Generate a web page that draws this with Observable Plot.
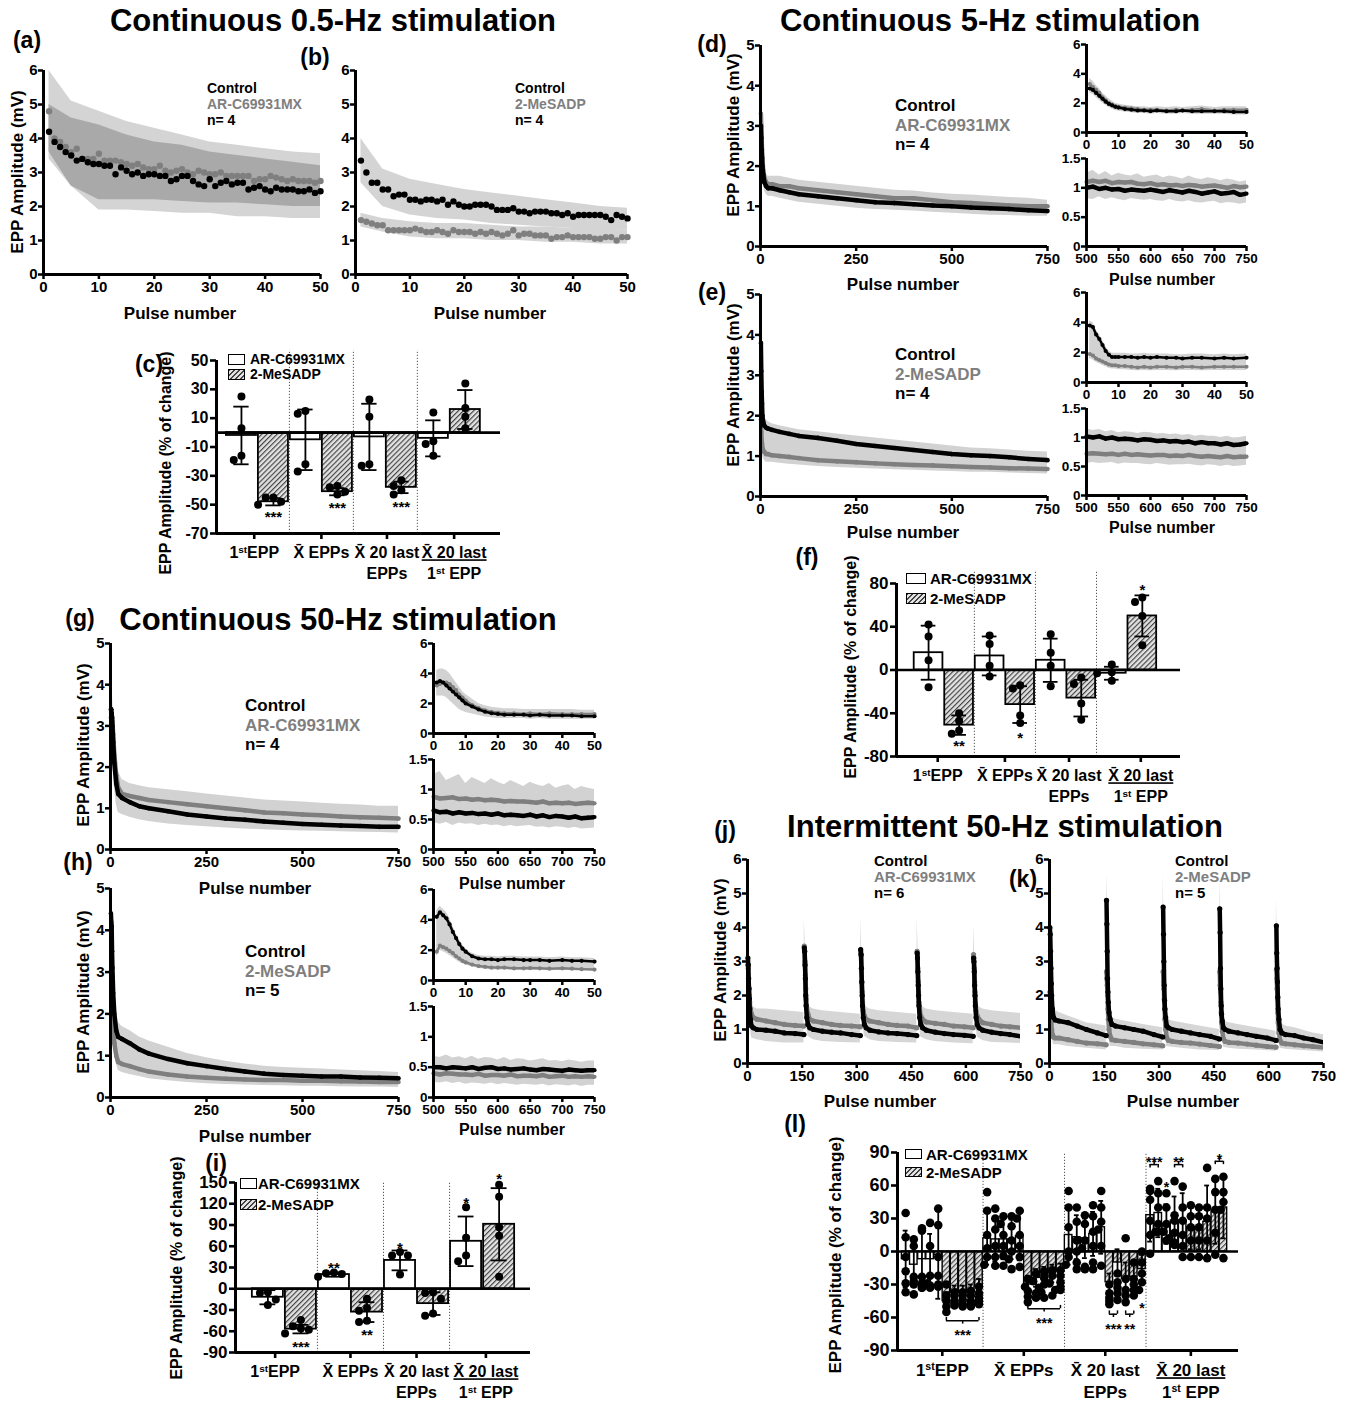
<!DOCTYPE html>
<html><head><meta charset="utf-8">
<script src="https://cdn.jsdelivr.net/npm/d3@7"></script>
<script src="https://cdn.jsdelivr.net/npm/@observablehq/plot@0.6"></script>
<style>
body{margin:0;background:#fff;}
#fig{position:relative;width:1346px;height:1401px;overflow:hidden;font-family:"Liberation Sans",Arial,Helvetica,sans-serif;font-weight:bold;color:#000;background:#fff;}
.t{position:absolute;white-space:nowrap;line-height:1;transform:translate(-50%,-50%);}
.l{position:absolute;white-space:nowrap;line-height:1;transform:translate(0,-50%);}
.v{position:absolute;white-space:nowrap;line-height:1;transform:translate(-50%,-50%) rotate(-90deg);}
.box{position:absolute;border:1.5px solid #000;box-sizing:border-box;background:#fff;}
.hbox{position:absolute;border:1.5px solid #000;box-sizing:border-box;background:repeating-linear-gradient(135deg,#444 0 1px,#e2e2e2 1px 3.5px);}
</style></head>
<body><div id="fig"></div>
<script>
// ======================= DATA =======================
// (a) Continuous 0.5 Hz — Control vs AR-C69931MX (pulses 1..50)
const pulses50 = d3.range(1, 51);
const aControl = [4.2,3.9,3.75,3.6,3.5,3.35,3.4,3.3,3.25,3.25,3.2,3.2,2.95,3.15,3.05,2.95,3.0,2.9,2.95,2.95,2.9,2.9,2.75,2.8,2.9,2.9,2.75,2.65,2.6,2.8,2.6,2.7,2.75,2.65,2.7,2.7,2.5,2.55,2.6,2.5,2.45,2.55,2.5,2.5,2.5,2.45,2.45,2.5,2.4,2.45];
const aAR = [4.8,4.0,3.9,3.75,3.6,3.7,3.4,3.4,3.4,3.55,3.35,3.35,3.35,3.3,3.25,3.2,3.25,3.15,3.1,3.1,3.2,3.05,3.0,3.05,3.1,3.0,2.95,3.05,3.0,2.95,2.95,3.0,2.9,2.9,2.9,2.9,2.9,2.75,2.8,2.8,2.9,2.85,2.8,2.75,2.8,2.75,2.75,2.75,2.7,2.75];
const bandGrid50 = [1,5,10,15,20,25,30,35,40,45,50];
const aBandARHi = [6.0,5.1,4.8,4.5,4.3,4.1,3.9,3.8,3.7,3.6,3.55];
const aBandARLo = [3.4,2.6,1.9,1.9,1.85,1.8,1.8,1.7,1.7,1.65,1.65];
const aBandCtHi = [5.0,4.6,4.4,4.1,3.9,3.8,3.6,3.5,3.4,3.3,3.2];
const aBandCtLo = [3.6,2.6,2.2,2.2,2.2,2.15,2.1,2.1,2.05,2.0,2.0];
// (b) Continuous 0.5 Hz — Control vs 2-MeSADP
const bControl = [3.35,3.0,2.7,2.7,2.5,2.5,2.3,2.35,2.35,2.2,2.2,2.15,2.2,2.2,2.15,2.2,2.05,2.15,2.05,2.0,2.0,2.05,2.05,2.05,2.0,1.9,1.9,1.9,1.95,1.85,1.85,1.8,1.85,1.85,1.85,1.8,1.8,1.75,1.8,1.7,1.75,1.75,1.75,1.75,1.75,1.7,1.6,1.75,1.7,1.65];
const bMeS = [1.6,1.55,1.5,1.45,1.45,1.3,1.3,1.3,1.3,1.3,1.35,1.3,1.25,1.25,1.3,1.25,1.2,1.3,1.25,1.25,1.25,1.2,1.25,1.2,1.25,1.2,1.15,1.2,1.3,1.15,1.2,1.2,1.15,1.15,1.15,1.05,1.1,1.1,1.15,1.1,1.1,1.1,1.1,1.05,1.05,1.1,1.1,1.0,1.1,1.1];
const bBandCtHi = [4.0,3.1,2.8,2.65,2.5,2.4,2.3,2.2,2.1,2.0,1.95];
const bBandCtLo = [2.7,2.0,1.75,1.65,1.6,1.5,1.45,1.4,1.35,1.3,1.3];
const bBandMeHi = [1.8,1.65,1.55,1.5,1.5,1.45,1.4,1.4,1.35,1.35,1.3];
const bBandMeLo = [1.4,1.25,1.1,1.05,1.05,1.0,1.0,0.95,0.95,0.9,0.9];

// pulse grids for the 750-pulse recordings
const grid750 = [1,2,3,4,5,7,10,15,20,30,50,75,100,150,200,250,300,350,400,450,500,550,600,650,700,750];
const gridFirst50 = [1,2,3,4,5,6,7,8,9,10,12,14,16,18,20,22,25,28,30,33,36,40,43,46,50];
const gridLast = [500,510,520,530,540,550,560,570,580,590,600,610,620,630,640,650,660,670,680,690,700,710,720,730,740,750];

// (d) Continuous 5 Hz — Control vs AR-C69931MX
const dControl = [3.0,2.7,2.4,2.2,2.0,1.8,1.6,1.5,1.45,1.45,1.4,1.35,1.3,1.25,1.2,1.15,1.1,1.08,1.05,1.02,1.0,0.97,0.95,0.93,0.9,0.88];
const dAR = [3.3,3.0,2.7,2.4,2.2,1.9,1.7,1.6,1.55,1.55,1.5,1.5,1.45,1.4,1.35,1.3,1.25,1.2,1.2,1.15,1.1,1.08,1.05,1.02,1.0,1.0];
const dBandHi = [3.6,3.2,2.9,2.6,2.4,2.1,1.9,1.8,1.75,1.75,1.75,1.7,1.65,1.6,1.55,1.5,1.45,1.4,1.38,1.33,1.3,1.28,1.25,1.22,1.2,1.15];
const dBandLo = [2.7,2.4,2.1,1.9,1.75,1.6,1.4,1.3,1.25,1.25,1.2,1.15,1.1,1.05,1.0,0.95,0.92,0.9,0.88,0.85,0.83,0.8,0.78,0.77,0.75,0.75];
const dTopControl = [3.0,2.9,2.7,2.5,2.3,2.1,1.95,1.85,1.75,1.7,1.6,1.55,1.5,1.5,1.45,1.5,1.45,1.45,1.5,1.45,1.45,1.45,1.45,1.4,1.4];
const dTopAR = [3.3,3.1,2.9,2.7,2.4,2.2,2.0,1.9,1.8,1.75,1.7,1.65,1.6,1.55,1.55,1.55,1.5,1.55,1.5,1.55,1.6,1.5,1.55,1.55,1.55];
const dTopHi = [3.7,3.5,3.2,3.0,2.7,2.5,2.3,2.15,2.0,1.95,1.85,1.8,1.75,1.75,1.7,1.75,1.7,1.75,1.7,1.75,1.8,1.7,1.75,1.75,1.75];
const dTopLo = [2.7,2.6,2.4,2.2,2.0,1.85,1.7,1.6,1.5,1.45,1.4,1.35,1.3,1.3,1.25,1.3,1.25,1.25,1.3,1.25,1.25,1.25,1.25,1.2,1.2];
const dEndControl = [1.0,1.02,0.98,1.0,0.97,0.98,0.95,0.97,0.96,0.95,0.97,0.95,0.93,0.96,0.94,0.92,0.95,0.93,0.9,0.92,0.94,0.9,0.91,0.93,0.88,0.9];
const dEndAR = [1.1,1.12,1.1,1.12,1.08,1.1,1.09,1.1,1.07,1.06,1.08,1.05,1.06,1.04,1.05,1.03,1.05,1.04,1.02,1.03,1.04,1.02,1.0,1.03,1.01,1.02];
const dEndHi = [1.25,1.3,1.22,1.28,1.2,1.25,1.22,1.2,1.24,1.18,1.2,1.22,1.17,1.2,1.18,1.15,1.2,1.16,1.14,1.17,1.15,1.12,1.15,1.13,1.1,1.12];
const dEndLo = [0.82,0.8,0.85,0.8,0.83,0.8,0.78,0.82,0.8,0.79,0.8,0.78,0.77,0.8,0.77,0.76,0.78,0.75,0.74,0.76,0.77,0.73,0.75,0.74,0.72,0.74];

// (e) Continuous 5 Hz — Control vs 2-MeSADP
const eControl = [3.8,3.1,2.6,2.3,2.0,1.85,1.75,1.7,1.68,1.65,1.6,1.55,1.5,1.45,1.38,1.3,1.25,1.2,1.15,1.1,1.05,1.02,1.0,0.97,0.93,0.9];
const eMeS = [1.9,1.6,1.4,1.3,1.2,1.15,1.1,1.05,1.05,1.02,1.0,0.98,0.95,0.9,0.87,0.85,0.82,0.8,0.78,0.77,0.75,0.73,0.72,0.7,0.69,0.68];
const eBandHi = [4.0,3.3,2.8,2.5,2.2,2.0,1.95,1.9,1.85,1.8,1.75,1.7,1.65,1.6,1.55,1.5,1.45,1.4,1.35,1.3,1.25,1.2,1.18,1.15,1.12,1.1];
const eBandLo = [1.6,1.4,1.2,1.1,1.0,0.95,0.9,0.85,0.85,0.85,0.82,0.8,0.78,0.74,0.72,0.7,0.68,0.66,0.65,0.63,0.62,0.6,0.6,0.58,0.57,0.56];
const eTopControl = [3.8,3.7,3.2,2.9,2.5,2.1,1.85,1.7,1.7,1.7,1.7,1.7,1.65,1.7,1.65,1.7,1.65,1.65,1.6,1.65,1.65,1.6,1.65,1.6,1.65];
const eTopMeS = [1.9,1.8,1.6,1.5,1.4,1.3,1.2,1.15,1.15,1.1,1.1,1.05,1.0,1.05,1.0,1.05,1.05,1.0,1.05,1.05,1.0,1.05,1.05,1.05,1.05];
const eTopHi = [4.1,4.0,3.5,3.2,2.8,2.4,2.1,1.95,1.95,1.95,1.95,1.9,1.9,1.95,1.9,1.9,1.9,1.85,1.85,1.9,1.9,1.85,1.9,1.85,1.9];
const eTopLo = [1.6,1.5,1.35,1.25,1.15,1.05,0.95,0.9,0.9,0.85,0.85,0.8,0.78,0.8,0.78,0.8,0.8,0.78,0.8,0.8,0.78,0.8,0.8,0.8,0.8];
const eEndControl = [1.02,1.0,1.02,0.98,1.0,0.97,0.98,0.97,0.95,0.97,0.96,0.94,0.95,0.93,0.94,0.92,0.93,0.9,0.92,0.9,0.9,0.88,0.9,0.87,0.88,0.9];
const eEndMeS = [0.72,0.73,0.72,0.71,0.72,0.7,0.72,0.7,0.71,0.7,0.69,0.7,0.7,0.68,0.69,0.68,0.7,0.68,0.67,0.68,0.67,0.66,0.68,0.66,0.67,0.67];
const eEndHi = [1.15,1.12,1.14,1.1,1.12,1.08,1.1,1.09,1.07,1.09,1.08,1.06,1.07,1.05,1.06,1.04,1.05,1.02,1.04,1.02,1.02,1.0,1.02,0.99,1.0,1.02];
const eEndLo = [0.55,0.57,0.55,0.56,0.57,0.54,0.56,0.55,0.55,0.54,0.53,0.55,0.54,0.52,0.53,0.53,0.54,0.52,0.51,0.53,0.52,0.5,0.52,0.5,0.51,0.52];

// (g) Continuous 50 Hz — Control vs AR-C69931MX
const gControl = [3.4,3.4,3.3,3.2,3.0,2.6,2.1,1.6,1.35,1.25,1.15,1.05,1.0,0.93,0.85,0.8,0.75,0.72,0.68,0.65,0.62,0.6,0.58,0.57,0.55,0.55];
const gAR = [3.2,3.3,3.3,3.2,3.1,2.8,2.3,1.8,1.5,1.35,1.3,1.25,1.2,1.15,1.1,1.05,1.0,0.95,0.9,0.88,0.85,0.83,0.8,0.78,0.77,0.75];
const gBandHi = [4.3,4.3,4.2,4.0,3.8,3.4,2.8,2.2,1.9,1.7,1.6,1.55,1.5,1.45,1.4,1.35,1.3,1.25,1.2,1.18,1.15,1.12,1.1,1.08,1.05,1.05];
const gBandLo = [2.5,2.5,2.4,2.3,2.2,1.9,1.5,1.1,0.9,0.85,0.78,0.72,0.68,0.62,0.58,0.55,0.52,0.5,0.48,0.46,0.45,0.44,0.43,0.42,0.41,0.4];
const gTopControl = [3.4,3.5,3.4,3.2,3.0,2.8,2.6,2.4,2.2,2.0,1.8,1.6,1.45,1.35,1.3,1.25,1.25,1.25,1.2,1.25,1.2,1.2,1.2,1.15,1.15];
const gTopAR = [3.2,3.3,3.4,3.4,3.3,3.1,2.9,2.6,2.4,2.2,1.9,1.7,1.55,1.45,1.4,1.35,1.35,1.3,1.35,1.3,1.35,1.3,1.3,1.3,1.3];
const gTopHi = [4.2,4.3,4.3,4.2,4.0,3.7,3.4,3.1,2.8,2.6,2.3,2.0,1.85,1.75,1.7,1.65,1.65,1.6,1.6,1.6,1.6,1.6,1.6,1.55,1.55];
const gTopLo = [2.5,2.5,2.5,2.4,2.2,2.0,1.8,1.6,1.5,1.4,1.3,1.2,1.1,1.05,1.0,1.0,1.0,1.0,0.95,1.0,0.95,0.95,0.95,0.95,0.95];
const gEndControl = [0.65,0.62,0.63,0.6,0.62,0.6,0.61,0.59,0.6,0.58,0.6,0.57,0.58,0.57,0.56,0.58,0.55,0.57,0.54,0.56,0.55,0.53,0.55,0.52,0.53,0.54];
const gEndAR = [0.88,0.85,0.86,0.87,0.84,0.85,0.83,0.84,0.82,0.83,0.82,0.8,0.81,0.8,0.8,0.79,0.78,0.8,0.77,0.78,0.77,0.78,0.76,0.77,0.78,0.77];
const gEndHi = [1.25,1.3,1.15,1.2,1.25,1.1,1.2,1.15,1.1,1.18,1.12,1.08,1.15,1.1,1.05,1.12,1.08,1.05,1.1,1.02,1.06,1.08,1.0,1.05,1.02,1.0];
const gEndLo = [0.45,0.42,0.45,0.4,0.44,0.42,0.43,0.4,0.42,0.4,0.41,0.38,0.4,0.38,0.39,0.4,0.37,0.38,0.36,0.38,0.37,0.35,0.37,0.34,0.35,0.36];

// (h) Continuous 50 Hz — Control vs 2-MeSADP
const hControl = [4.4,4.2,4.1,3.5,3.1,2.5,2.0,1.6,1.45,1.4,1.3,1.15,1.05,0.92,0.82,0.75,0.68,0.62,0.57,0.54,0.52,0.5,0.5,0.48,0.47,0.46];
const hMeS = [2.0,2.2,2.3,2.2,2.0,1.6,1.3,1.0,0.85,0.8,0.75,0.68,0.62,0.55,0.5,0.47,0.45,0.43,0.42,0.42,0.4,0.4,0.39,0.38,0.37,0.37];
const hBandHi = [4.8,4.6,4.5,4.0,3.6,3.0,2.5,2.0,1.8,1.7,1.6,1.45,1.35,1.2,1.05,0.95,0.87,0.8,0.75,0.72,0.7,0.68,0.66,0.64,0.62,0.6];
const hBandLo = [1.6,1.8,1.9,1.8,1.6,1.3,1.05,0.8,0.65,0.6,0.55,0.5,0.45,0.4,0.36,0.33,0.31,0.3,0.29,0.28,0.27,0.27,0.26,0.25,0.25,0.24];
const hTopControl = [4.2,4.5,4.3,4.1,3.7,3.2,2.8,2.4,2.1,1.9,1.6,1.45,1.4,1.4,1.35,1.4,1.4,1.35,1.35,1.35,1.3,1.35,1.3,1.3,1.25];
const hTopMeS = [1.9,2.3,2.2,2.1,1.95,1.8,1.6,1.45,1.3,1.2,1.05,0.95,0.9,0.85,0.85,0.85,0.8,0.8,0.82,0.8,0.78,0.8,0.78,0.75,0.72];
const hTopHi = [4.6,4.9,4.7,4.5,4.1,3.6,3.1,2.7,2.35,2.1,1.8,1.65,1.6,1.6,1.55,1.6,1.6,1.55,1.55,1.55,1.5,1.55,1.5,1.5,1.45];
const hTopLo = [1.6,2.0,1.9,1.8,1.65,1.5,1.35,1.2,1.1,1.0,0.9,0.8,0.75,0.7,0.7,0.7,0.68,0.68,0.7,0.68,0.66,0.68,0.66,0.64,0.62];
const hEndControl = [0.5,0.5,0.48,0.5,0.49,0.48,0.5,0.47,0.49,0.5,0.47,0.48,0.46,0.47,0.48,0.46,0.45,0.47,0.46,0.45,0.44,0.46,0.45,0.44,0.45,0.45];
const hEndMeS = [0.4,0.38,0.4,0.39,0.38,0.38,0.37,0.39,0.36,0.37,0.37,0.36,0.38,0.35,0.36,0.36,0.35,0.37,0.34,0.35,0.36,0.34,0.35,0.34,0.35,0.34];
const hEndHi = [0.68,0.66,0.7,0.65,0.67,0.64,0.68,0.63,0.66,0.65,0.62,0.66,0.61,0.64,0.63,0.6,0.62,0.64,0.6,0.61,0.59,0.62,0.6,0.58,0.6,0.6];
const hEndLo = [0.25,0.24,0.26,0.23,0.25,0.22,0.24,0.23,0.22,0.24,0.21,0.23,0.22,0.2,0.22,0.21,0.2,0.22,0.19,0.21,0.2,0.19,0.21,0.18,0.2,0.2];

// (j),(k) Intermittent 50 Hz: 5 trains
const trainStarts = [1,156,311,466,621];
const trainOffsets = [0,1,2,3,4,5,7,10,15,25,50,75,100,130,154];
const bandOffsets = [0,2,5,10,25,50,100,154];
const jControl = [
  [3.1,2.9,2.5,2.2,1.9,1.6,1.3,1.1,1.05,1.0,0.98,0.95,0.9,0.88,0.85],
  [3.4,3.3,2.9,2.5,2.0,1.7,1.35,1.15,1.05,1.0,0.95,0.92,0.9,0.85,0.82],
  [3.35,3.2,2.8,2.4,2.0,1.7,1.35,1.15,1.05,0.98,0.93,0.9,0.88,0.85,0.82],
  [3.25,3.1,2.7,2.3,2.0,1.7,1.35,1.15,1.05,0.98,0.92,0.88,0.85,0.83,0.8],
  [3.1,3.0,2.7,2.3,2.0,1.7,1.35,1.15,1.05,0.98,0.92,0.88,0.85,0.8,0.78]];
const jAR = [
  [2.9,2.8,2.5,2.2,2.0,1.8,1.6,1.45,1.35,1.3,1.25,1.2,1.15,1.12,1.1],
  [3.45,3.3,3.0,2.6,2.2,1.9,1.6,1.45,1.3,1.25,1.2,1.15,1.12,1.1,1.08],
  [3.3,3.2,2.8,2.4,2.1,1.8,1.55,1.4,1.3,1.25,1.2,1.15,1.12,1.1,1.05],
  [3.3,3.2,2.8,2.4,2.1,1.8,1.55,1.4,1.3,1.22,1.18,1.15,1.1,1.08,1.05],
  [3.2,3.1,2.8,2.4,2.1,1.8,1.55,1.4,1.3,1.2,1.15,1.1,1.08,1.05,1.0]];
const jBandHi = [[4.0,3.3,2.4,1.7,1.6,1.6,1.55,1.5],[4.3,3.7,2.6,1.7,1.6,1.55,1.5,1.45],[4.3,3.6,2.6,1.7,1.6,1.55,1.5,1.45],[4.3,3.6,2.5,1.7,1.6,1.55,1.5,1.45],[4.1,3.5,2.5,1.7,1.6,1.55,1.5,1.45]];
const jBandLo = [[2.3,2.0,1.2,0.75,0.7,0.65,0.6,0.6],[2.5,2.2,1.3,0.8,0.7,0.65,0.62,0.6],[2.5,2.2,1.3,0.8,0.7,0.65,0.62,0.6],[2.5,2.1,1.3,0.78,0.7,0.65,0.6,0.58],[2.4,2.1,1.3,0.78,0.68,0.62,0.6,0.58]];
const kControl = [
  [4.0,3.8,3.3,2.8,2.35,2.0,1.6,1.35,1.28,1.25,1.2,1.1,1.0,0.9,0.82],
  [4.8,4.1,3.3,2.5,2.1,1.8,1.5,1.3,1.15,1.1,1.05,1.0,0.95,0.85,0.78],
  [4.6,3.8,3.0,2.3,1.85,1.6,1.35,1.1,1.05,1.0,0.95,0.9,0.85,0.8,0.72],
  [4.55,3.85,2.8,2.2,1.7,1.45,1.25,1.05,1.0,0.95,0.9,0.85,0.8,0.75,0.68],
  [4.05,3.25,2.8,2.4,1.95,1.6,1.3,1.0,0.9,0.85,0.82,0.75,0.7,0.62,0.55]];
const kMeS = [
  [2.1,2.0,1.75,1.5,1.25,1.0,0.85,0.78,0.75,0.75,0.7,0.65,0.6,0.58,0.55],
  [2.7,2.5,2.3,2.0,1.6,1.3,1.0,0.8,0.7,0.68,0.65,0.62,0.58,0.55,0.52],
  [2.7,2.4,2.2,1.9,1.6,1.3,1.0,0.75,0.68,0.65,0.62,0.6,0.57,0.53,0.5],
  [2.7,2.3,2.1,1.8,1.5,1.2,0.95,0.72,0.65,0.62,0.6,0.57,0.54,0.5,0.48],
  [2.75,2.5,2.2,1.9,1.5,1.2,0.9,0.68,0.6,0.58,0.55,0.52,0.5,0.47,0.45]];
const kBandHi = [[5.9,4.5,2.8,1.6,1.5,1.4,1.2,1.1],[5.6,4.8,2.5,1.4,1.3,1.25,1.15,1.05],[5.6,4.5,2.3,1.3,1.25,1.2,1.1,1.0],[5.5,4.5,2.2,1.25,1.2,1.15,1.05,0.95],[4.9,3.9,2.3,1.2,1.1,1.05,0.9,0.8]];
const kBandLo = [[1.5,1.2,0.8,0.55,0.55,0.5,0.45,0.4],[1.8,1.5,0.9,0.5,0.5,0.45,0.42,0.4],[1.8,1.4,0.8,0.5,0.48,0.45,0.4,0.38],[1.8,1.4,0.8,0.48,0.45,0.42,0.4,0.36],[1.8,1.4,0.8,0.45,0.42,0.4,0.36,0.32]];

// Bar summaries (% of change): groups 1stEPP, mean EPPs, mean 20 last EPPs, ratio
const categories = ["1stEPP", "X\u0304 EPPs", "X\u0304 20 last\nEPPs", "X\u0304 20 last\n1st EPP"];
// (c) 0.5 Hz
const cARMean = [-2,-5,-3,-4], cARSD = [20,21,23,12.5];
const cARDots = [[25,3,-16,-19],[15,13,-22,-27],[23,11,-22,-23],[14,-6,-8,-16]];
const cMeMean = [-48,-41,-38,16], cMeSD = [2.5,2.5,4,13.5];
const cMeDots = [[-45,-45,-48,-50],[-38,-37,-41,-43],[-33,-37,-40,-43],[34,17,11,3]];
const cStars = [{g:0,v:-55,t:"***"},{g:1,v:-49,t:"***"},{g:2,v:-48,t:"***"}];
// (f) 5 Hz
const fARMean = [16,13,9,-3], fARSD = [25,18,20,6];
const fARDots = [[42,31,9,-16],[32,24,4,-6],[33,16,4,-15],[5,-2,-3,-10]];
const fMeMean = [-51,-32,-26,50], fMeSD = [9,17,17,19];
const fMeDots = [[-40,-47,-56,-59],[-14,-17,-42,-49],[-7,-13,-31,-46],[67,63,50,23]];
const fStars = [{g:0,v:-66,t:"**"},{g:1,v:-58,t:"*"},{g:3,v:78,t:"*"}];
// (i) 50 Hz
const iARMean = [-12,20,40,67], iARSD = [10,3,14,35];
const iARDots = [[-5,-6,-15,-23],[23,22,21,17],[52,47,47,20],[115,72,47,39]];
const iMeMean = [-57,-33,-21,91], iMeSD = [6,14,16,51];
const iMeDots = [[-44,-53,-56,-58,-63],[-14,-27,-31,-45,-47],[-5,-6,-14,-35,-38],[147,130,87,75,17]];
const iStars = [{g:0,k:1,v:-75,t:"***"},{g:1,k:0,v:36,t:"**"},{g:1,k:1,v:-58,t:"**"},{g:2,k:0,v:64,t:"*"},{g:3,k:0,v:128,t:"*"},{g:3,k:1,v:162,t:"*"}];
// (l) Intermittent 50 Hz: 5 trains per treatment in each group
const lARMean = [-7,-12,-7,-7,-3, 12,11,11,11,14, 15,13,12,16,22, 33,35,25,28,28];
const lARSD = [26,20,26,23,40, 24,20,18,18,22, 27,20,18,20,24, 24,22,18,22,25];
const lARDots = [
  [35,13,-5,-18,-29,-37],[11,5,-23,-27,-30,-39],[21,19,-23,-29,-33,-33],[26,5,-22,-29,-33,-31],[39,24,-5,-22,-30,-32],
  [54,37,15,3,-5,-12],[39,30,20,5,-5,-13],[32,25,15,5,-4,-13],[32,23,10,0,-7,-16],[37,30,15,5,-5,-14],
  [55,40,22,0,-5,-12],[40,27,10,0,-10,-16],[33,25,10,3,-14,-16],[42,32,18,5,-10,-16],[55,40,27,20,5,-13],
  [57,55,47,28,15,-2],[64,53,40,25,18,18],[53,40,25,18,12,10],[64,33,28,17,8,6],[59,40,28,15,5,-5]];
const lMeMean = [-45,-37,-37,-36,-32, -30,-24,-22,-20,-18, -28,-10,-25,-23,-16, 22,20,27,37,40];
const lMeSD = [8,6,6,6,7, 8,8,8,8,7, 8,12,15,12,13, 20,18,33,30,28];
const lMeDots = [
  [-30,-40,-45,-50,-55],[-37,-40,-45,-47,-49],[-37,-40,-44,-48,-50],[-36,-40,-45,-48,-50],[-32,-38,-42,-45,-48],
  [-25,-32,-36,-41,-46],[-20,-27,-33,-38,-42],[-18,-24,-30,-37,-42],[-17,-22,-29,-35,-40],[-17,-22,-28,-32,-35],
  [-30,-38,-42,-45,-48],[-20,-28,-33,-38,-44],[12,-25,-35,-40,-46],[-10,-25,-30,-35,-40],[0,-10,-20,-28,-35],
  [42,32,22,10,-5],[40,32,22,10,-5],[76,40,30,10,-6],[66,54,38,17,-3],[68,54,45,38,-6]];
// brackets: bar indices a..b inside the 40-bar layout, level v, direction of the end ticks, label
const lBrackets = [
  {a:5,b:9,v:-63,dir:1,t:"***",tv:-72},
  {a:15,b:19,v:-52,dir:1,t:"***",tv:-61},
  {a:25,b:26,v:-57,dir:1,t:"***",tv:-66},
  {a:27,b:28,v:-57,dir:1,t:"**",tv:-66},
  {a:30,b:31,v:79,dir:-1,t:"***",tv:85},
  {a:33,b:34,v:79,dir:-1,t:"**",tv:85},
  {a:38,b:39,v:82,dir:-1,t:"*",tv:88}];
const lLooseStars = [{bar:29,v:-47,t:"*"},{bar:32,v:63,t:"*"}];

// ======================= RENDERING =======================
const FONT = '"Liberation Sans", Arial, Helvetica, sans-serif';
const NS = "http://www.w3.org/2000/svg";
const fig = document.getElementById("fig");
const GRAY = "#7f7f7f", BAND = "#d2d2d2";
const STYLE = {fontFamily: FONT, fontWeight: "bold", fontSize: "14px", background: "transparent", overflow: "visible", color: "#000"};
const fmt = d => String(d);
let patternCount = 0;

function mkPlot(frame, opts) {
  const ml = frame.ml ?? 45, mr = frame.mr ?? 22, mt = frame.mt ?? 14, mb = frame.mb ?? 60;
  const width = frame.x1 - frame.x0 + ml + mr, height = frame.y1 - frame.y0 + mt + mb;
  const svg = Plot.plot({width, height, marginLeft: ml, marginRight: mr, marginTop: mt, marginBottom: mb, style: STYLE, ...opts});
  svg.style.position = "absolute";
  svg.style.left = (frame.x0 - ml) + "px";
  svg.style.top = (frame.y0 - mt) + "px";
  svg.style.maxWidth = "none";
  fig.appendChild(svg);
  return svg;
}
const rows = (xs, ys) => xs.map((x, i) => ({x, y: ys[i]}));
const bandRows = (xs, lo, hi) => xs.map((x, i) => ({x, lo: lo[i], hi: hi[i]}));

function axesMarks(xd, yd, xt, yt, fs) {
  return [
    Plot.ruleX([xd[0]], {stroke: "#000", strokeWidth: 3}),
    Plot.ruleY([yd[0]], {stroke: "#000", strokeWidth: 3}),
    Plot.axisX({ticks: xt, tickFormat: fmt, tickSize: 5, tickPadding: 2, strokeWidth: 2.5, fontSize: fs, label: null}),
    Plot.axisY({ticks: yt, tickFormat: fmt, tickSize: 5, tickPadding: 1, strokeWidth: 2.5, fontSize: fs, label: null})
  ];
}

function tsPlot(cfg) {
  const marks = [];
  for (const b of cfg.bands) marks.push(Plot.area(b.data, {x1: "x", y1: "lo", y2: "hi", z: b.z, fill: b.fill ?? BAND, clip: true}));
  for (const s of cfg.series) {
    if (s.line) marks.push(Plot.line(s.data, {x: "x", y: "y", z: s.z, stroke: s.color, strokeWidth: s.line, clip: true}));
    marks.push(Plot.dot(s.data.filter(d => d.x <= cfg.xd[1]), {x: "x", y: "y", r: s.r, fill: s.color, stroke: "none"}));
  }
  marks.push(...axesMarks(cfg.xd, cfg.yd, cfg.xt, cfg.yt, cfg.fs));
  return mkPlot(cfg.frame, {x: {domain: cfg.xd}, y: {domain: cfg.yd}, marks});
}

function spread(vals, cx, pxX, pxY, r, step, maxOff) {
  const sorted = [...vals].sort((a, b) => b - a);
  const placed = [];
  const offs = [0, -1, 1, -2, 2].filter(o => Math.abs(o) <= maxOff);
  for (const v of sorted) {
    let chosen = 0;
    for (const o of offs) {
      const x = o * step;
      if (placed.every(p => Math.hypot((p.o - x) * pxX, (p.v - v) * pxY) >= 2 * r - 0.5)) { chosen = x; break; }
    }
    placed.push({o: chosen, v});
  }
  return placed.map(p => ({x: cx + p.o, y: p.v}));
}

function fixText(svg) {
  svg.querySelectorAll("text, tspan").forEach(el => {
    if (el.childNodes.length !== 1 || el.firstChild.nodeType !== 3) return;
    const s = el.textContent, i = s.indexOf("1st");
    if (i < 0) return;
    el.textContent = "";
    el.appendChild(document.createTextNode(s.slice(0, i + 1)));
    const sup = document.createElementNS(NS, "tspan");
    sup.setAttribute("baseline-shift", "super");
    sup.setAttribute("font-size", "62%");
    sup.textContent = "st";
    el.appendChild(sup);
    el.appendChild(document.createTextNode(s.slice(i + 3)));
  });
  svg.querySelectorAll("tspan").forEach(el => {
    const nx = el.nextElementSibling;
    if (el.textContent.startsWith("X\u0304 20 last") && nx && nx.textContent.includes("st EPP")) {
      el.setAttribute("text-decoration", "underline");
      el.style.textDecorationThickness = "2px";
    }
  });
}

function barChart(cfg) {
  const {frame, xd, yd} = cfg;
  const pxX = (frame.x1 - frame.x0) / (xd[1] - xd[0]);
  const pxY = (frame.y1 - frame.y0) / (yd[1] - yd[0]);
  const pid = "hatch" + (patternCount++);
  const bars = cfg.bars;
  const ar = bars.filter(b => b.kind === "AR"), me = bars.filter(b => b.kind === "Me");
  const dots = bars.flatMap(b => spread(b.dots, b.x + 0.5, pxX, pxY, cfg.dotR, cfg.step, cfg.maxOff ?? 2));
  const err = bars.map(b => ({x: b.x + 0.5, lo: b.v - b.sd, hi: b.v + b.sd}));
  const caps = err.flatMap(e => [{x1: e.x - cfg.cap, x2: e.x + cfg.cap, y: e.lo}, {x1: e.x - cfg.cap, x2: e.x + cfg.cap, y: e.hi}]);
  const marks = [
    Plot.ruleX(cfg.seps, {x: d => d, y1: yd[0], y2: cfg.sepTop, stroke: "#555", strokeWidth: 1, strokeDasharray: "1.2,1.8"}),
    Plot.rect(ar, {x1: d => d.x + cfg.gap, x2: d => d.x + 1 - cfg.gap, y1: 0, y2: "v", fill: "#fff", stroke: "#000", strokeWidth: cfg.barSW ?? 1.8}),
    Plot.rect(me, {x1: d => d.x + cfg.gap, x2: d => d.x + 1 - cfg.gap, y1: 0, y2: "v", fill: `url(#${pid})`, stroke: "#000", strokeWidth: cfg.barSW ?? 1.8}),
    Plot.ruleX(err, {x: "x", y1: "lo", y2: "hi", strokeWidth: 1.8}),
    Plot.ruleY(caps, {x1: "x1", x2: "x2", y: "y", strokeWidth: 1.8}),
    Plot.ruleY([0], {strokeWidth: 2.6}),
    Plot.dot(dots, {x: "x", y: "y", r: cfg.dotR, fill: "#000"}),
    Plot.ruleX([xd[0]], {strokeWidth: 3}),
    Plot.ruleY([yd[0]], {strokeWidth: 3}),
    Plot.axisY({ticks: cfg.yTicks, tickFormat: fmt, tickSize: 6, tickPadding: 2, strokeWidth: 2.6, fontSize: cfg.fs, label: null}),
    Plot.axisX({ticks: cfg.catX, tickFormat: () => "", tickSize: 6, strokeWidth: 2.6, label: null}),
    Plot.text(cfg.catX.map((x, i) => ({x, label: categories[i]})), {x: "x", text: "label", frameAnchor: "bottom", lineAnchor: "top", dy: cfg.catDy ?? 10, fontSize: cfg.catFs, lineHeight: 1.3})
  ];
  if (cfg.stars) marks.push(Plot.text(cfg.stars, {x: "x", y: "v", text: "t", fontSize: cfg.starFs ?? 15, dy: 5}));
  if (cfg.brackets) {
    marks.push(Plot.ruleY(cfg.brackets, {y: "v", x1: d => d.a + 0.5, x2: d => d.b + 0.5, strokeWidth: 1.5}));
    const ends = cfg.brackets.flatMap(d => [
      {x: d.a + 0.5, y1: d.v, y2: d.v + d.dir * 3}, {x: d.b + 0.5, y1: d.v, y2: d.v + d.dir * 3},
      {x: (d.a + d.b + 1) / 2, y1: d.v, y2: d.v - d.dir * 3}]);
    marks.push(Plot.ruleX(ends, {x: "x", y1: "y1", y2: "y2", strokeWidth: 1.5}));
    marks.push(Plot.text(cfg.brackets, {x: d => (d.a + d.b + 1) / 2, y: "tv", text: "t", fontSize: cfg.starFs ?? 15, dy: 5}));
  }
  const svg = mkPlot(frame, {x: {domain: xd}, y: {domain: yd}, marks});
  const defs = document.createElementNS(NS, "defs");
  defs.innerHTML = `<pattern id="${pid}" patternUnits="userSpaceOnUse" width="3.6" height="3.6" patternTransform="rotate(45)"><rect width="3.6" height="3.6" fill="#e2e2e2"/><line x1="0.6" y1="0" x2="0.6" y2="3.6" stroke="#3a3a3a" stroke-width="1.1"/></pattern>`;
  svg.insertBefore(defs, svg.firstChild);
  fixText(svg);
  return svg;
}

function pairedBars(arMean, arSD, arDots, meMean, meSD, meDots) {
  const out = [];
  for (let g = 0; g < 4; g++) {
    out.push({x: 2 * g, v: arMean[g], sd: arSD[g], dots: arDots[g], kind: "AR"});
    out.push({x: 2 * g + 1, v: meMean[g], sd: meSD[g], dots: meDots[g], kind: "Me"});
  }
  return out;
}
const starRows = (st) => st.map(s => ({x: 2 * s.g + (s.k ?? 1) + 0.5, v: s.v, t: s.t}));

// ---------- HTML text helpers ----------
function txt(s, x, y, size, cls = "t", color = "#000") {
  const d = document.createElement("div");
  d.className = cls; d.textContent = s;
  d.style.left = x + "px"; d.style.top = y + "px"; d.style.fontSize = size + "px"; d.style.color = color;
  fig.appendChild(d); return d;
}
function legendLines(x, ys, labels, size) {
  labels.forEach((lab, i) => txt(lab[0], x, ys[i], size, "l", lab[1]));
}
function barLegend(x, y1, y2, w, h, tx, size) {
  const b1 = document.createElement("div"); b1.className = "box";
  Object.assign(b1.style, {left: x + "px", top: (y1 - h / 2) + "px", width: w + "px", height: h + "px"}); fig.appendChild(b1);
  const b2 = document.createElement("div"); b2.className = "hbox";
  Object.assign(b2.style, {left: x + "px", top: (y2 - h / 2) + "px", width: w + "px", height: h + "px"}); fig.appendChild(b2);
  txt("AR-C69931MX", tx, y1, size, "l"); txt("2-MeSADP", tx, y2, size, "l");
}

// ---------- (a) ----------
tsPlot({frame: {x0: 43, x1: 320, y0: 70, y1: 274}, xd: [0, 50], yd: [0, 6], xt: [0,10,20,30,40,50], yt: [0,1,2,3,4,5,6], fs: 15,
  bands: [{data: bandRows(bandGrid50, aBandARLo, aBandARHi), fill: "#d4d4d4"}, {data: bandRows(bandGrid50, aBandCtLo, aBandCtHi), fill: "#a9a9a9"}],
  series: [{data: rows(pulses50, aAR), color: GRAY, r: 3.2}, {data: rows(pulses50, aControl), color: "#000", r: 3.2}]});
// ---------- (b) ----------
tsPlot({frame: {x0: 355, x1: 627, y0: 70, y1: 274}, xd: [0, 50], yd: [0, 6], xt: [0,10,20,30,40,50], yt: [0,1,2,3,4,5,6], fs: 15,
  bands: [{data: bandRows(bandGrid50, bBandCtLo, bBandCtHi), fill: "#d4d4d4"}, {data: bandRows(bandGrid50, bBandMeLo, bBandMeHi), fill: "#d4d4d4"}],
  series: [{data: rows(pulses50, bMeS), color: GRAY, r: 3.2}, {data: rows(pulses50, bControl), color: "#000", r: 3.2}]});

// generic 750-pulse panel with two insets
function triple(main, top, end, data) {
  tsPlot({frame: main, xd: [0, 750], yd: [0, 5], xt: [0,250,500,750], yt: [0,1,2,3,4,5], fs: 15,
    bands: [{data: bandRows(grid750, data.bandLo, data.bandHi)}],
    series: [{data: rows(grid750, data.mainB), color: GRAY, r: 2.3, line: 4.5}, {data: rows(grid750, data.mainA), color: "#000", r: 2.3, line: 4.5}]});
  tsPlot({frame: top, xd: [0, 50], yd: [0, 6], xt: [0,10,20,30,40,50], yt: [0,2,4,6], fs: 13.5,
    bands: [{data: bandRows(gridFirst50, data.topLo, data.topHi)}],
    series: [{data: rows(gridFirst50, data.topB), color: GRAY, r: 2.1, line: 2.5}, {data: rows(gridFirst50, data.topA), color: "#000", r: 2.1, line: 2.5}]});
  tsPlot({frame: end, xd: [500, 750], yd: [0, 1.5], xt: [500,550,600,650,700,750], yt: [0,0.5,1,1.5], fs: 13.5,
    bands: [{data: bandRows(gridLast, data.endLo, data.endHi)}],
    series: [{data: rows(gridLast, data.endB), color: GRAY, r: 2.1, line: 4.5}, {data: rows(gridLast, data.endA), color: "#000", r: 2.1, line: 4.5}]});
}
// (d)
triple({x0: 760, x1: 1047, y0: 45, y1: 246}, {x0: 1086, x1: 1246, y0: 44, y1: 132}, {x0: 1086, x1: 1246, y0: 158, y1: 246},
  {mainA: dControl, mainB: dAR, bandHi: dBandHi, bandLo: dBandLo, topA: dTopControl, topB: dTopAR, topHi: dTopHi, topLo: dTopLo, endA: dEndControl, endB: dEndAR, endHi: dEndHi, endLo: dEndLo});
// (e)
triple({x0: 760, x1: 1047, y0: 294, y1: 496}, {x0: 1086, x1: 1246, y0: 292, y1: 382}, {x0: 1086, x1: 1246, y0: 408, y1: 495},
  {mainA: eControl, mainB: eMeS, bandHi: eBandHi, bandLo: eBandLo, topA: eTopControl, topB: eTopMeS, topHi: eTopHi, topLo: eTopLo, endA: eEndControl, endB: eEndMeS, endHi: eEndHi, endLo: eEndLo});
// (g)
triple({x0: 110, x1: 398, y0: 643, y1: 849}, {x0: 433, x1: 594, y0: 643, y1: 733}, {x0: 433, x1: 594, y0: 759, y1: 849},
  {mainA: gControl, mainB: gAR, bandHi: gBandHi, bandLo: gBandLo, topA: gTopControl, topB: gTopAR, topHi: gTopHi, topLo: gTopLo, endA: gEndControl, endB: gEndAR, endHi: gEndHi, endLo: gEndLo});
// (h)
triple({x0: 110, x1: 398, y0: 888, y1: 1097}, {x0: 433, x1: 594, y0: 889, y1: 980}, {x0: 433, x1: 594, y0: 1006, y1: 1097},
  {mainA: hControl, mainB: hMeS, bandHi: hBandHi, bandLo: hBandLo, topA: hTopControl, topB: hTopMeS, topHi: hTopHi, topLo: hTopLo, endA: hEndControl, endB: hEndMeS, endHi: hEndHi, endLo: hEndLo});

// (j),(k)
function trainRows(vals) { const out = []; vals.forEach((arr, t) => arr.forEach((y, k) => out.push({x: trainStarts[t] + trainOffsets[k], y, t}))); return out; }
function trainBand(lo, hi) { const out = []; lo.forEach((arr, t) => arr.forEach((l, k) => out.push({x: trainStarts[t] + bandOffsets[k], lo: l, hi: hi[t][k], t}))); return out; }
function intermittent(frame, ctrl, drug, lo, hi) {
  tsPlot({frame, xd: [0, 750], yd: [0, 6], xt: [0,150,300,450,600,750], yt: [0,1,2,3,4,5,6], fs: 15,
    bands: [{data: trainBand(lo, hi), z: "t", fill: "#d6d6d6"}],
    series: [{data: trainRows(drug), z: "t", color: GRAY, r: 2.6, line: 4.5}, {data: trainRows(ctrl), z: "t", color: "#000", r: 2.6, line: 4.5}]});
}
intermittent({x0: 747, x1: 1020, y0: 859, y1: 1063}, jControl, jAR, jBandLo, jBandHi);
intermittent({x0: 1049, x1: 1323, y0: 859, y1: 1063}, kControl, kMeS, kBandLo, kBandHi);

// (c)
barChart({frame: {x0: 216, x1: 500, y0: 360, y1: 533, mb: 70}, xd: [-0.28, 8.6], yd: [-70, 50], yTicks: [-70,-50,-30,-10,10,30,50], fs: 16,
  bars: pairedBars(cARMean, cARSD, cARDots, cMeMean, cMeSD, cMeDots), seps: [2, 4, 6], sepTop: 57, catX: [0.9, 3.0, 5.05, 7.15], catFs: 16,
  stars: starRows(cStars), dotR: 4, step: 0.24, cap: 0.24, gap: 0.03});
// (f)
barChart({frame: {x0: 896, x1: 1180, y0: 583, y1: 756, mb: 70}, xd: [-0.55, 8.75], yd: [-80, 80], yTicks: [-80,-40,0,40,80], fs: 17,
  bars: pairedBars(fARMean, fARSD, fARDots, fMeMean, fMeSD, fMeDots), seps: [2, 4, 6], sepTop: 92, catX: [0.8, 3.0, 5.1, 7.45], catFs: 16,
  stars: starRows(fStars), dotR: 4, step: 0.24, cap: 0.24, gap: 0.03});
// (i)
barChart({frame: {x0: 235, x1: 530, y0: 1182, y1: 1352, mb: 60}, xd: [-0.48, 8.45], yd: [-90, 150], yTicks: [-90,-60,-30,0,30,60,90,120,150], fs: 17,
  bars: pairedBars(iARMean, iARSD, iARDots, iMeMean, iMeSD, iMeDots), seps: [2, 4, 6], sepTop: 150, catX: [0.72, 3.0, 5.0, 7.1], catFs: 16,
  stars: starRows(iStars), dotR: 4, step: 0.24, cap: 0.24, gap: 0.03});
// (l)
const lBars = [];
for (let g = 0; g < 4; g++) for (let k = 0; k < 5; k++) {
  lBars.push({x: 10 * g + k, v: lARMean[5 * g + k], sd: lARSD[5 * g + k], dots: lARDots[5 * g + k], kind: "AR"});
  lBars.push({x: 10 * g + 5 + k, v: lMeMean[5 * g + k], sd: lMeSD[5 * g + k], dots: lMeDots[5 * g + k], kind: "Me"});
}
barChart({frame: {x0: 897, x1: 1238, y0: 1152, y1: 1350, mb: 55}, xd: [-0.5, 41.35], yd: [-90, 90], yTicks: [-90,-60,-30,0,30,60,90], fs: 18,
  bars: lBars, seps: [10, 20, 30], sepTop: 90, catX: [5, 15, 25, 35.5], catFs: 17,
  stars: lLooseStars.map(s => ({x: s.bar + 0.5, v: s.v, t: s.t})), brackets: lBrackets, starFs: 14,
  dotR: 4.3, step: 0.35, maxOff: 1, cap: 0.3, gap: 0.04, barSW: 1.4});

// ---------- text: titles, panel letters, axis titles, legends ----------
txt("Continuous 0.5-Hz stimulation", 333, 20, 31);
txt("Continuous 5-Hz stimulation", 990, 20, 31);
txt("Continuous 50-Hz stimulation", 338, 619, 31);
txt("Intermittent 50-Hz stimulation", 1005, 826, 31);
[["(a)",27,40],["(b)",315,57],["(c)",149,364],["(d)",712,44],["(e)",712,292],["(f)",807,557],["(g)",80,618],["(h)",78,862],["(i)",216,1163],["(j)",725,830],["(k)",1023,879],["(l)",795,1124]]
  .forEach(([s, x, y]) => txt(s, x, y, 23));
const YL = "EPP Amplitude (mV)", YP = "EPP Amplitude (% of change)", XL = "Pulse number";
txt(YL, 17, 172, 17, "v"); txt(XL, 180, 313, 17); txt(XL, 490, 313, 17);
txt(YP, 166, 463, 16, "v");
txt(YL, 733, 135, 17, "v"); txt(XL, 903, 284, 17); txt(XL, 1162, 280, 16);
txt(YL, 733, 385, 17, "v"); txt(XL, 903, 532, 17); txt(XL, 1162, 528, 16);
txt(YP, 851, 667, 16, "v");
txt(YL, 83, 745, 17, "v"); txt(XL, 255, 888, 17); txt(XL, 512, 884, 16);
txt(YL, 83, 992, 17, "v"); txt(XL, 255, 1136, 17); txt(XL, 512, 1130, 16);
txt(YP, 177, 1268, 16, "v");
txt(YL, 720, 960, 17, "v"); txt(XL, 880, 1101, 17); txt(XL, 1183, 1101, 17);
txt(YP, 835, 1255, 17, "v");
legendLines(207, [88, 104, 120], [["Control","#000"],["AR-C69931MX",GRAY],["n= 4","#000"]], 14);
legendLines(515, [88, 104, 120], [["Control","#000"],["2-MeSADP",GRAY],["n= 4","#000"]], 14);
legendLines(895, [105, 125, 144], [["Control","#000"],["AR-C69931MX",GRAY],["n= 4","#000"]], 17);
legendLines(895, [354, 374, 393], [["Control","#000"],["2-MeSADP",GRAY],["n= 4","#000"]], 17);
legendLines(245, [705, 725, 744], [["Control","#000"],["AR-C69931MX",GRAY],["n= 4","#000"]], 17);
legendLines(245, [951, 971, 990], [["Control","#000"],["2-MeSADP",GRAY],["n= 5","#000"]], 17);
legendLines(874, [860, 876, 892], [["Control","#000"],["AR-C69931MX",GRAY],["n= 6","#000"]], 15);
legendLines(1175, [860, 876, 892], [["Control","#000"],["2-MeSADP",GRAY],["n= 5","#000"]], 15);
barLegend(228, 359, 374, 17, 11, 250, 14);
barLegend(906, 578, 598, 20, 11, 930, 15);
barLegend(240, 1183, 1204, 17, 11, 258, 15);
barLegend(905, 1154, 1172, 17, 10, 926, 15);
</script></body></html>
